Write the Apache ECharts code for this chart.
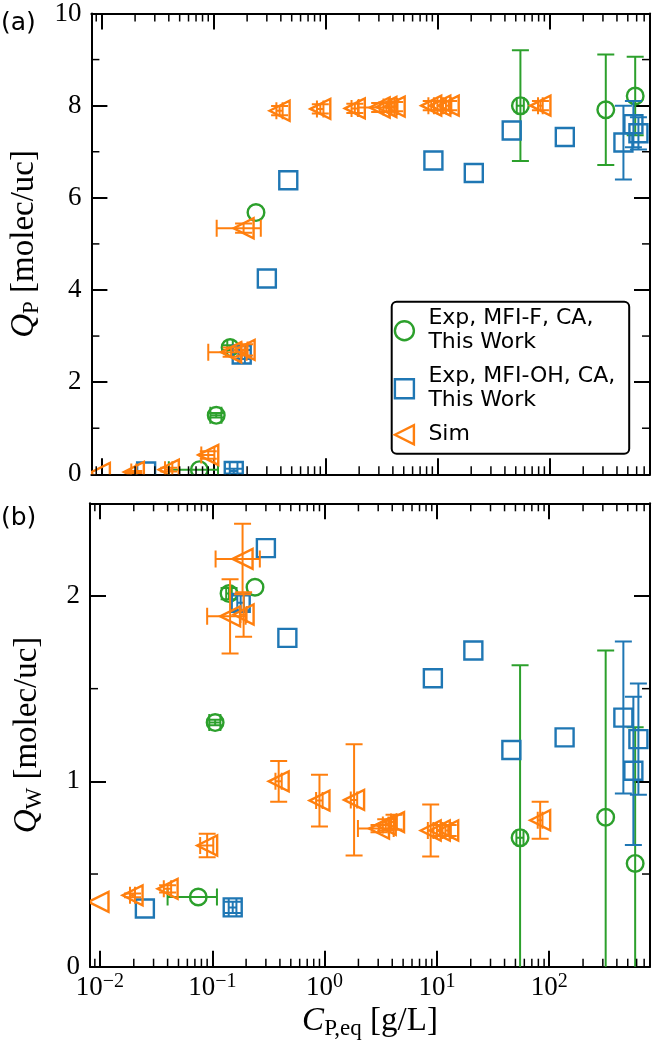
<!DOCTYPE html>
<html><head><meta charset="utf-8">
<script src="https://cdn.jsdelivr.net/npm/echarts@6/dist/echarts.min.js"></script>
<style>html,body{margin:0;padding:0;background:#fff}#c{width:652px;height:1050px}</style>
</head><body><div id="c"></div>
<script>
// ---------------- data ----------------
// Sim (orange, left triangles)
const simX      = [0.0097,0.0195,0.040,0.090,0.144,0.190,0.186,0.39,0.90,1.83,3.05,3.5,4.15,8.8,10.6,12.6,83];
const simXErr   = [0,0.001,0.003,0.012,0.054,0.012,0.079,0.025,0.06,0.12,1.07,0.2,0.25,0.5,0.6,0.7,4];
const simQP     = [0.03,0.05,0.10,0.42,2.65,2.70,5.34,7.89,7.93,7.94,7.96,7.97,7.98,8.0,8.0,8.0,8.0];
const simQPErr  = [0,0.02,0.04,0.08,0.1,0.12,0.1,0.1,0.1,0.1,0.1,0.1,0.1,0.1,0.1,0.1,0.1];
const simQW     = [0.35,0.385,0.42,0.654,1.89,1.90,2.20,1.00,0.896,0.90,0.745,0.765,0.78,0.735,0.735,0.735,0.79];
const simQWErr  = [0,0.01,0.02,0.063,0.2,0.12,0.19,0.11,0.14,0.30,0.02,0.03,0.04,0.14,0.03,0.03,0.10];
// Exp, MFI-F (green circles)
const mfiFX     = [0.075,0.106,0.141,0.24,55,318,582];
const mfiFXErr  = [0.035,0.012,0.008,0,4,0,0];
const mfiFQP    = [0.10,1.28,2.75,5.68,8.0,7.91,8.21];
const mfiFQPErr = [0,0.05,0.05,0,1.2,1.2,0.85];
const mfiFQW    = [0.376,1.317,2.013,2.047,0.696,0.806,0.557];
const mfiFQWErr = [0,0.015,0.03,0,0.93,0.9,0.735];
// Exp, MFI-OH (blue squares)
const mfiOHX     = [0.0251,0.152,0.179,0.30,0.466,9.2,21.1,46,137,457,561,622];
const mfiOHXErr  = [0,0.012,0.012,0,0,0,0,0,0,0,0,0];
const mfiOHQP    = [0.06,0.07,2.60,4.25,6.38,6.81,6.54,7.46,7.32,7.2,7.6,7.4];
const mfiOHQPErr = [0,0.05,0.1,0,0,0,0,0,0,0.8,0.5,0.35];
const mfiOHQW    = [0.314,0.32,1.963,2.258,1.774,1.556,1.706,1.169,1.237,1.344,1.057,1.228];
const mfiOHQWErr = [0,0.03,0.04,0,0,0,0,0,0,0.41,0.4,0.3];
// ticks
const xMinorTicks = [0.009,0.02,0.03,0.04,0.05,0.06,0.07,0.08,0.09,0.2,0.3,0.4,0.5,0.6,0.7,0.8,0.9,
                     2,3,4,5,6,7,8,9,20,30,40,50,60,70,80,90,200,300,400,500,600,700];
const qpMinorTicks = [1,3,5,7,9];
const qwMinorTicks = [0.5,1.5];
const legendNames = ['Exp, MFI-F, CA,\nThis Work','Exp, MFI-OH, CA,\nThis Work','Sim'];

// ---------------- styles ----------------
const GREEN='#2ca02c', BLUE='#1f77b4', ORANGE='#ff7f0e';
const SERIF='"Liberation Serif", "DejaVu Serif", serif';
const SANS='"DejaVu Sans", sans-serif';
const X_MIN=0.00815, X_MAX=789;
const CAP=8.5, EW=2, MW=2.4;

function marker(shape, c, color){
  const st={fill:'none', stroke:color, lineWidth:MW};
  if(shape==='circle') return {type:'circle', shape:{cx:c[0],cy:c[1],r:8.3}, style:st};
  if(shape==='square') return {type:'rect', shape:{x:c[0]-9,y:c[1]-9,width:18,height:18}, style:st};
  return {type:'polygon', shape:{points:[[c[0]-10,c[1]],[c[0]+10,c[1]-10],[c[0]+10,c[1]+10]]}, style:st};
}
function errSeries(name, shape, color, xs, ys, xe, ye, ai){
  return {
    type:'custom', name, xAxisIndex:ai, yAxisIndex:ai, clip:true, silent:true, z:3,
    itemStyle:{color:'transparent', borderColor:color, borderWidth:2},
    encode:{x:0,y:1},
    data: xs.map((x,i)=>[x, ys[i], xe[i], ye[i]]),
    renderItem(params, api){
      const x=api.value(0), y=api.value(1), dx=api.value(2), dy=api.value(3);
      const c=api.coord([x,y]);
      const ls={stroke:color, lineWidth:EW};
      const ch=[];
      if(dx>0){
        const l=api.coord([x-dx,y])[0], r=api.coord([x+dx,y])[0];
        ch.push({type:'line', shape:{x1:l,y1:c[1],x2:r,y2:c[1]}, style:ls});
        ch.push({type:'line', shape:{x1:l,y1:c[1]-CAP,x2:l,y2:c[1]+CAP}, style:ls});
        ch.push({type:'line', shape:{x1:r,y1:c[1]-CAP,x2:r,y2:c[1]+CAP}, style:ls});
      }
      if(dy>0){
        const t=api.coord([x,y+dy])[1], b=api.coord([x,y-dy])[1];
        ch.push({type:'line', shape:{x1:c[0],y1:t,x2:c[0],y2:b}, style:ls});
        ch.push({type:'line', shape:{x1:c[0]-CAP,y1:t,x2:c[0]+CAP,y2:t}, style:ls});
        ch.push({type:'line', shape:{x1:c[0]-CAP,y1:b,x2:c[0]+CAP,y2:b}, style:ls});
      }
      ch.push(marker(shape,c,color));
      return {type:'group', children:ch};
    }
  };
}
const tickStyle={stroke:'#000', lineWidth:1.5};
function xMinorSeries(ai){
  return {type:'custom', xAxisIndex:ai, yAxisIndex:ai, silent:true, clip:false, z:5,
    data:xMinorTicks.map(v=>[v,0.5]),
    renderItem(params, api){
      const cs=params.coordSys; const px=api.coord([api.value(0),api.value(1)])[0];
      return {type:'group', children:[
        {type:'line', shape:{x1:px,y1:cs.y+cs.height,x2:px,y2:cs.y+cs.height-8}, style:tickStyle},
        {type:'line', shape:{x1:px,y1:cs.y,x2:px,y2:cs.y+8}, style:tickStyle}]};
    }};
}
function yMinorSeries(ai, ticks){
  return {type:'custom', xAxisIndex:ai, yAxisIndex:ai, silent:true, clip:false, z:5,
    data:ticks.map(v=>[1,v]),
    renderItem(params, api){
      const cs=params.coordSys; const py=api.coord([api.value(0),api.value(1)])[1];
      return {type:'group', children:[
        {type:'line', shape:{x1:cs.x,y1:py,x2:cs.x+8,y2:py}, style:tickStyle},
        {type:'line', shape:{x1:cs.x+cs.width,y1:py,x2:cs.x+cs.width-8,y2:py}, style:tickStyle}]};
    }};
}

const titleRich={i:{fontFamily:SERIF,fontStyle:'italic',fontSize:33,lineHeight:38,color:'#000'},
      s:{fontFamily:SERIF,fontSize:23,lineHeight:23,verticalAlign:'bottom',color:'#000'},
      t:{fontFamily:SERIF,fontSize:33,lineHeight:38,color:'#000'}};
const axisLine={show:true, onZero:false, lineStyle:{color:'#000', width:2}};
const axisTick={show:true, inside:true, length:16, lineStyle:{color:'#000', width:2}};
function xAx(grid, pos, labels){
  const a={type:'log', logBase:10, gridIndex:grid, position:pos, min:X_MIN, max:X_MAX,
    axisLine, axisTick, splitLine:{show:false}, minorTick:{show:false},
    axisLabel:{show:false}};
  if(labels){
    a.axisLabel={show:true, margin:5, showMinLabel:false, showMaxLabel:false,
      formatter:v=>{const e=Math.round(Math.log10(v)); if(Math.abs(v/Math.pow(10,e)-1)>1e-6) return '';
        return '{b|10}{s|'+(e<0?'\u2212'+(-e):''+e)+'}';},
      rich:{b:{fontFamily:SERIF,fontSize:27,lineHeight:32,color:'#000'},
            s:{fontFamily:SERIF,fontSize:20,lineHeight:17,verticalAlign:'top',color:'#000'}}};
    a.name='{i|C}{s|P,eq}{t| [g/L]}';
    a.nameLocation='middle'; a.nameGap=36;
    a.nameTextStyle={rich:titleRich};
  }
  return a;
}
function yAx(grid, pos, max, interval, title){
  const a={type:'value', gridIndex:grid, position:pos, min:0, max, interval,
    axisLine, axisTick, splitLine:{show:false}, axisLabel:{show:false}};
  if(title){
    a.axisLabel={show:true, margin:10, showMaxLabel: max===10, fontFamily:SERIF, fontSize:27, color:'#000'};
    a.name=title; a.nameLocation='middle'; a.nameRotate=90; a.nameGap=44;
    a.nameTextStyle={rich:titleRich};
  }
  return a;
}

const chart=echarts.init(document.getElementById('c'), null, {renderer:'canvas'});
chart.setOption({
  animation:false,
  backgroundColor:'#fff',
  grid:[{left:90, top:10, width:560, height:464.3},{left:90, top:503.3, width:560, height:463.4}],
  xAxis:[xAx(0,'bottom',false), xAx(0,'top',false), xAx(1,'bottom',true), xAx(1,'top',false)],
  yAxis:[yAx(0,'left',10,2,'{i|Q}{s|P}{t| [molec/uc]}'), yAx(0,'right',10,2,null),
         yAx(1,'left',2.5,1,'{i|Q}{s|W}{t| [molec/uc]}'), yAx(1,'right',2.5,1,null)],
  legend:{
    left:391.7, top:301.7, orient:'vertical', itemGap:10, itemWidth:28, itemHeight:19,
    padding:[5,14,7,2], borderColor:'#000', borderWidth:2, borderRadius:5, backgroundColor:'#fff',
    textStyle:{fontFamily:SANS, fontSize:22, lineHeight:24, color:'#000', padding:[0,0,0,5]},
    data:[
      {name:legendNames[0], icon:'circle', itemStyle:{color:'transparent', borderColor:GREEN, borderWidth:2.4}},
      {name:legendNames[1], icon:'path://M0,0L20,0L20,20L0,20Z', itemStyle:{color:'transparent', borderColor:BLUE, borderWidth:2.4}},
      {name:legendNames[2], icon:'path://M0,10L20,0L20,20Z', itemStyle:{color:'transparent', borderColor:ORANGE, borderWidth:2.4}}
    ]
  },
  graphic:[
    {type:'text', left:1, top:11, style:{text:'(a)', font:'25px '+SANS, fill:'#000'}},
    {type:'text', left:1, top:506, style:{text:'(b)', font:'25px '+SANS, fill:'#000'}}
  ],
  series:[
    errSeries(legendNames[0],'circle',GREEN,mfiFX,mfiFQP,mfiFXErr,mfiFQPErr,0),
    errSeries(legendNames[1],'square',BLUE,mfiOHX,mfiOHQP,mfiOHXErr,mfiOHQPErr,0),
    errSeries(legendNames[2],'tri',ORANGE,simX,simQP,simXErr,simQPErr,0),
    errSeries(legendNames[0],'circle',GREEN,mfiFX,mfiFQW,mfiFXErr,mfiFQWErr,2),
    errSeries(legendNames[1],'square',BLUE,mfiOHX,mfiOHQW,mfiOHXErr,mfiOHQWErr,2),
    errSeries(legendNames[2],'tri',ORANGE,simX,simQW,simXErr,simQWErr,2),
    xMinorSeries(0), xMinorSeries(2),
    yMinorSeries(0, qpMinorTicks), yMinorSeries(2, qwMinorTicks)
  ]
});
</script></body></html>
